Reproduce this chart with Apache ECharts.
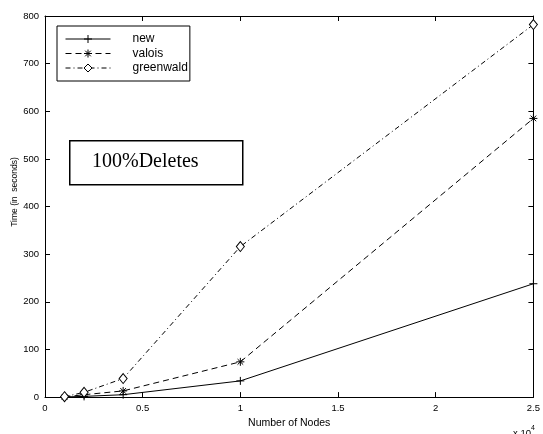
<!DOCTYPE html>
<html>
<head>
<meta charset="utf-8">
<script src="https://cdn.jsdelivr.net/npm/echarts@6/dist/echarts.min.js"></script>
<style>
html,body{margin:0;padding:0;background:#fff;}
#c{width:543px;height:434px;}
</style>
</head>
<body>
<div id="c"></div>
<script>
// Number of nodes (x 10^4)
const nodes = [0.1, 0.2, 0.4, 1, 2.5];
const seriesNames = ['new', 'valois', 'greenwald'];
const newTimes = [0.3, 1.5, 5, 34, 238];
const valoisTimes = [0.5, 5, 13, 74, 585];
const greenwaldTimes = [0.8, 10, 39, 316, 782];
const xTicks = [0, 0.5, 1, 1.5, 2, 2.5];
const yTicks = [0, 100, 200, 300, 400, 500, 600, 700, 800];

const pair = (ys) => nodes.map((x, i) => [x, ys[i]]);
const FONT = 'Liberation Sans, Arial, Helvetica, sans-serif';

const chart = echarts.init(document.getElementById('c'), null, {renderer: 'canvas'});

const plusSym = 'path://M0,5L10,5M5,0L5,10';
const starSym = 'path://M0,5L10,5M5,0L5,10M1.5,1.5L8.5,8.5M1.5,8.5L8.5,1.5';

const baseX = {
  type: 'value', min: xTicks[0], max: xTicks[xTicks.length - 1], interval: 0.5,
  axisLine: {show: true, onZero: false, lineStyle: {color: '#000', width: 1}},
  axisTick: {show: true, inside: true, length: 5, lineStyle: {color: '#000'}},
  splitLine: {show: false}
};
const baseY = {
  type: 'value', min: yTicks[0], max: yTicks[yTicks.length - 1], interval: 100,
  axisLine: {show: true, onZero: false, lineStyle: {color: '#000', width: 1}},
  axisTick: {show: true, inside: true, length: 5, lineStyle: {color: '#000'}},
  splitLine: {show: false}
};

chart.setOption({
  animation: false,
  backgroundColor: '#fff',
  grid: {left: 45, right: 5, top: 16, bottom: 29, containLabel: false},
  xAxis: [
    Object.assign({}, baseX, {
      position: 'bottom',
      name: 'Number of Nodes', nameLocation: 'middle', nameGap: 18,
      nameTextStyle: {color: '#000', fontFamily: FONT, fontSize: 10.5},
      axisLabel: {color: '#000', fontFamily: FONT, fontSize: 9.5, margin: 6,
        formatter: v => String(v)}
    }),
    Object.assign({}, baseX, {position: 'top', axisLabel: {show: false}})
  ],
  yAxis: [
    Object.assign({}, baseY, {
      position: 'left',
      axisLabel: {color: '#000', fontFamily: FONT, fontSize: 9.5, margin: 6}
    }),
    Object.assign({}, baseY, {position: 'right', axisLabel: {show: false}})
  ],
  legend: {
    show: true, orient: 'vertical', left: 57, top: 26,
    data: seriesNames,
    borderColor: '#000', borderWidth: 1, borderRadius: 0,
    backgroundColor: '#fff',
    padding: [7, 2, 7, 8],
    itemWidth: 45, itemHeight: 10, itemGap: 2.5,
    lineStyle: {width: 1},
    itemStyle: {borderWidth: 1},
    textStyle: {color: '#000', fontFamily: FONT, fontSize: 12, padding: [0, 0, 0, 17]}
  },
  series: [
    {
      name: seriesNames[0], type: 'line', data: pair(newTimes),
      symbol: plusSym, symbolSize: 8, showAllSymbol: true,
      lineStyle: {color: '#000', width: 1, type: 'solid'},
      itemStyle: {color: '#000', borderColor: '#000', borderWidth: 1}
    },
    {
      name: seriesNames[1], type: 'line', data: pair(valoisTimes),
      symbol: starSym, symbolSize: 8, showAllSymbol: true,
      lineStyle: {color: '#000', width: 1, type: [6, 4]},
      itemStyle: {color: '#000', borderColor: '#000', borderWidth: 1}
    },
    {
      name: seriesNames[2], type: 'line', data: pair(greenwaldTimes),
      symbol: 'diamond', symbolSize: [8, 10], showAllSymbol: true,
      lineStyle: {color: '#000', width: 1, type: [5, 3, 1, 3]},
      itemStyle: {color: '#fff', borderColor: '#000', borderWidth: 1}
    }
  ],
  graphic: [
    {
      type: 'rect', left: 69, top: 140, z: 10,
      shape: {width: 173, height: 44},
      style: {fill: '#fff', stroke: '#000', lineWidth: 1.5}
    },
    {
      type: 'text', left: 92, top: 152, z: 11,
      style: {text: '100%Deletes', fill: '#000', fontFamily: 'Liberation Serif, Times New Roman, serif', fontSize: 20}
    },
    {
      type: 'text', x: 15, y: 192, rotation: Math.PI / 2, z: 11,
      style: {text: 'Time (in  seconds)', fill: '#000', fontFamily: FONT, fontSize: 8.5,
        align: 'center', verticalAlign: 'middle'}
    },
    {
      type: 'text', left: 513, top: 425, z: 11,
      style: {
        text: '{a|x 10}{b|4}', fill: '#000', fontFamily: FONT,
        rich: {
          a: {fontSize: 9.5, fontFamily: FONT, fill: '#000', verticalAlign: 'bottom', padding: [3, 0, 0, 0]},
          b: {fontSize: 7, fontFamily: FONT, fill: '#000', verticalAlign: 'top'}
        }
      }
    }
  ]
});
</script>
</body>
</html>
